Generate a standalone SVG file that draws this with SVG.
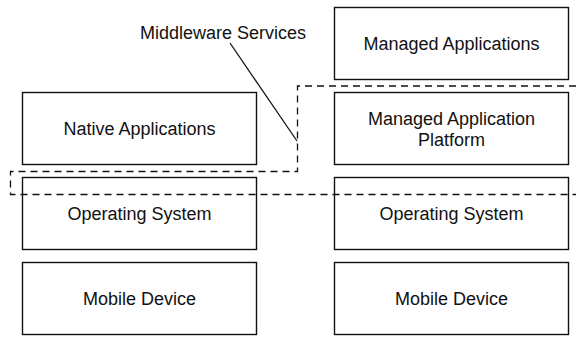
<svg xmlns="http://www.w3.org/2000/svg" width="576" height="338" viewBox="0 0 576 338">
  <style>
    .box { fill: #ffffff; stroke: #111111; stroke-width: 1.4; }
    .label { font-family: "Liberation Sans", Arial, sans-serif; font-size: 18px; fill: #111111; text-anchor: middle; }
    .dash { fill: none; stroke: #111111; stroke-width: 1.3; stroke-dasharray: 7 5; }
    .leader { fill: none; stroke: #111111; stroke-width: 1.3; }
  </style>
  <rect width="576" height="338" fill="#ffffff"/>

  <!-- left stack: native -->
  <g id="native-apps">
    <rect class="box" x="22.5" y="92.5" width="234" height="72"/>
    <text class="label" x="139.5" y="135">Native Applications</text>
  </g>
  <g id="os-left">
    <rect class="box" x="22.5" y="177.5" width="234" height="72"/>
    <text class="label" x="139.5" y="220">Operating System</text>
  </g>
  <g id="device-left">
    <rect class="box" x="22.5" y="262.5" width="234" height="72"/>
    <text class="label" x="139.5" y="305">Mobile Device</text>
  </g>

  <!-- right stack: managed -->
  <g id="managed-apps">
    <rect class="box" x="334.5" y="7.5" width="234" height="72"/>
    <text class="label" x="451.5" y="50">Managed Applications</text>
  </g>
  <g id="managed-platform">
    <rect class="box" x="334.5" y="92.5" width="234" height="72"/>
    <text class="label" x="451.5" y="125">Managed Application</text>
    <text class="label" x="451.5" y="146">Platform</text>
  </g>
  <g id="os-right">
    <rect class="box" x="334.5" y="177.5" width="234" height="72"/>
    <text class="label" x="451.5" y="220">Operating System</text>
  </g>
  <g id="device-right">
    <rect class="box" x="334.5" y="262.5" width="234" height="72"/>
    <text class="label" x="451.5" y="305">Mobile Device</text>
  </g>

  <!-- middleware boundary and its callout -->
  <g id="connectors">
    <path class="dash" d="M576,86 H297.5 V171.5 H10.5 V194.5 H576"/>
    <line class="leader" x1="230" y1="43" x2="297" y2="141"/>
  </g>
  <g id="middleware-label">
    <text class="label" x="223" y="38.5">Middleware Services</text>
  </g>
</svg>
